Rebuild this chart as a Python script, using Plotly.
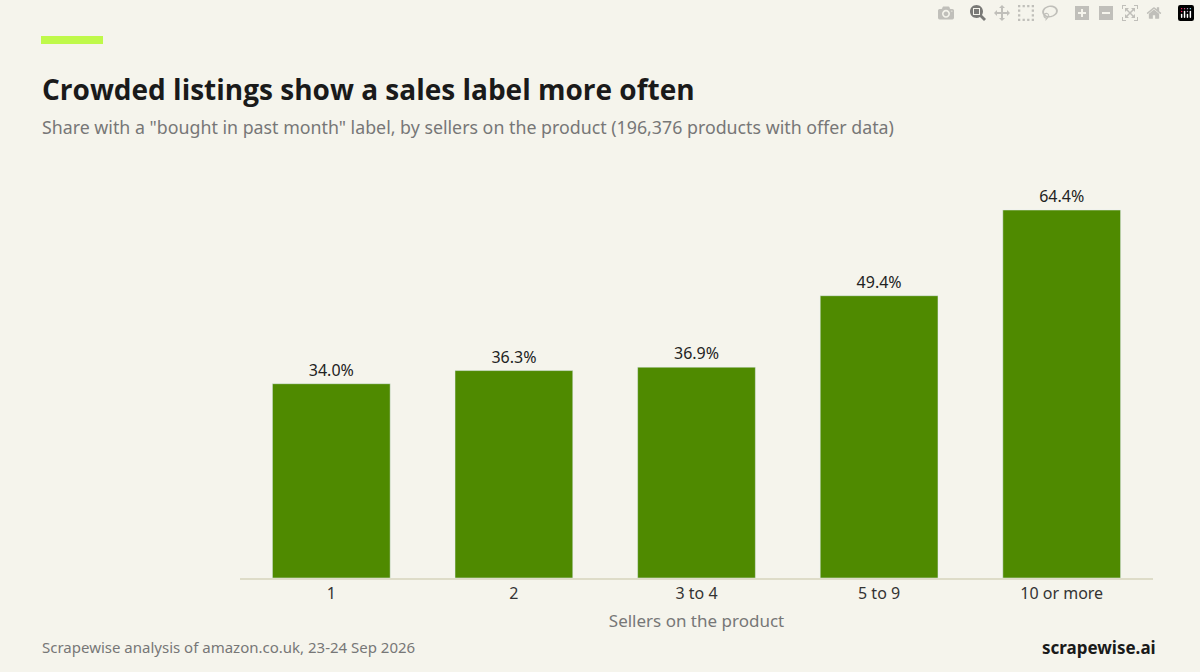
import plotly.graph_objects as go

categories = ["1", "2", "3 to 4", "5 to 9", "10 or more"]
values = [34.0, 36.3, 36.9, 49.4, 64.4]
labels = ["34.0%", "36.3%", "36.9%", "49.4%", "64.4%"]

fig = go.Figure(go.Bar(
    x=categories, y=values, text=labels, textposition="outside",
    marker_color="#4f8a00", textfont=dict(size=16, color="#222222", family="Noto Sans"),
    cliponaxis=False, hoverinfo="skip"))

fig.update_layout(
    width=1200, height=672, paper_bgcolor="#f5f4ec", plot_bgcolor="#f5f4ec",
    margin=dict(l=240, r=47, t=178, b=94), bargap=0.355, showlegend=False,
    font=dict(family="Noto Sans", color="#444444"),
    xaxis=dict(showline=True, linecolor="#dedcc8", linewidth=2, ticks="",
               tickfont=dict(size=16, color="#333333"),
               title=dict(text="Sellers on the product", font=dict(size=17, color="#777777"), standoff=12)),
    yaxis=dict(range=[0, 70], visible=False),
)
pw, ph = 1200-240-47, 672-178-94
def px(x): return (x-240)/pw
def py(y): return (672-94-y)/ph
fig.update_layout(shapes=[dict(type="rect", xref="paper", yref="paper",
    x0=px(41), x1=px(103), y0=py(44), y1=py(36), fillcolor="#bff94a", line_width=0)])
fig.add_annotation(xref="paper", yref="paper", x=px(40), y=py(89), xanchor="left", yanchor="middle",
    text="<b>Crowded listings show a sales label more often</b>", showarrow=False,
    font=dict(size=28, color="#1a1a1a", family="Open Sans"))
fig.add_annotation(xref="paper", yref="paper", x=px(40), y=py(127), xanchor="left", yanchor="middle",
    text='Share with a "bought in past month" label, by sellers on the product (196,376 products with offer data)',
    showarrow=False, font=dict(size=17.8, color="#777777"))
fig.add_annotation(xref="paper", yref="paper", x=px(40), y=py(647), xanchor="left", yanchor="middle",
    text="Scrapewise analysis of amazon.co.uk, 23-24 Sep 2026", showarrow=False,
    font=dict(size=15, color="#777777"))
fig.add_annotation(xref="paper", yref="paper", x=px(1158), y=py(647), xanchor="right", yanchor="middle",
    text="<b>scrapewise.ai</b>", showarrow=False, font=dict(size=17, color="#1a1a1a"))

fig.write_html("out.html", post_script="document.body.style.margin='0';document.body.style.background='#f5f4ec';")
